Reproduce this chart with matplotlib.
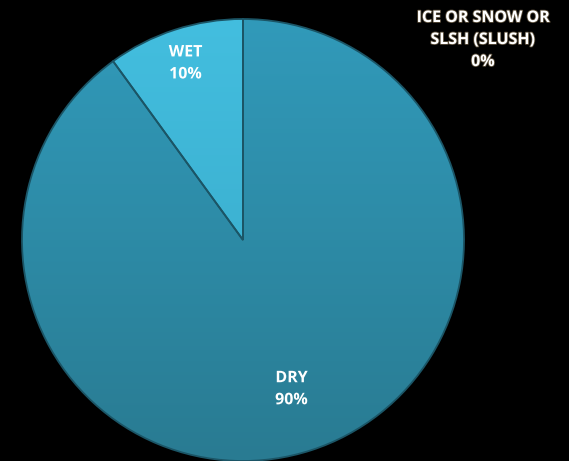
import numpy as np
import matplotlib.pyplot as plt
import matplotlib.patheffects as pe
from matplotlib.colors import LinearSegmentedColormap

categories = ['DRY', 'WET', 'ICE OR SNOW OR\nSLSH (SLUSH)']
shares = [90, 10, 0]
pct_labels = ['90%', '10%', '0%']

# top / bottom shade for each slice
shades = [('#319ABA', '#297B92'), ('#43BEDF', '#36A6C5'), ('#5ECFEA', '#4BB8D6')]
label_dist = [0.71, 0.84]

plt.rcParams['font.family'] = ['Open Sans', 'DejaVu Sans']

fig = plt.figure(figsize=(5.69, 4.61), dpi=100, facecolor='black')
ax = fig.add_axes([0, 0, 1, 1])
ax.set_facecolor('black')

cx, cy, R = 243, 221, 221
wedges, _ = ax.pie(shares, startangle=90, counterclock=False,
                   center=(cx, cy), radius=R, colors=[s[0] for s in shades],
                   wedgeprops=dict(edgecolor='#1B5566', linewidth=1.3))
ax.set_xlim(0, 569)
ax.set_ylim(0, 461)
ax.set_aspect('auto')
ax.axis('off')

# vertical gradient inside each wedge
grad = np.linspace(0, 1, 256).reshape(-1, 1)
for w, (top, bot) in zip(wedges, shades):
    cmap = LinearSegmentedColormap.from_list('w', [bot, top])
    im = ax.imshow(grad, cmap=cmap, origin='lower', aspect='auto',
                   extent=(cx - R, cx + R, cy - R, cy + R), zorder=w.get_zorder() + 0.1)
    im.set_clip_path(w)
    w.set_facecolor('none')
    w.set_zorder(w.get_zorder() + 0.2)

shadow = [pe.SimpleLineShadow(offset=(0.8, -0.8), shadow_color='#10303A', alpha=0.6),
          pe.Normal()]
for w, name, pct, d in zip(wedges[:2], categories[:2], pct_labels[:2], label_dist):
    ang = np.deg2rad((w.theta1 + w.theta2) / 2)
    ax.text(cx + d * R * np.cos(ang), cy + d * R * np.sin(ang), f'{name}\n{pct}',
            ha='center', va='center', color='white', fontsize=11.5, fontweight='bold',
            linespacing=1.5, path_effects=shadow, zorder=5)

ax.text(483, 421, f'{categories[2]}\n{pct_labels[2]}', ha='center', va='center',
        color='white', fontsize=11.5, fontweight='bold', linespacing=1.5,
        path_effects=[pe.withStroke(linewidth=1.2, foreground='#5A4E3A')], zorder=5)

fig.savefig('out.png', dpi=100, facecolor='black')
